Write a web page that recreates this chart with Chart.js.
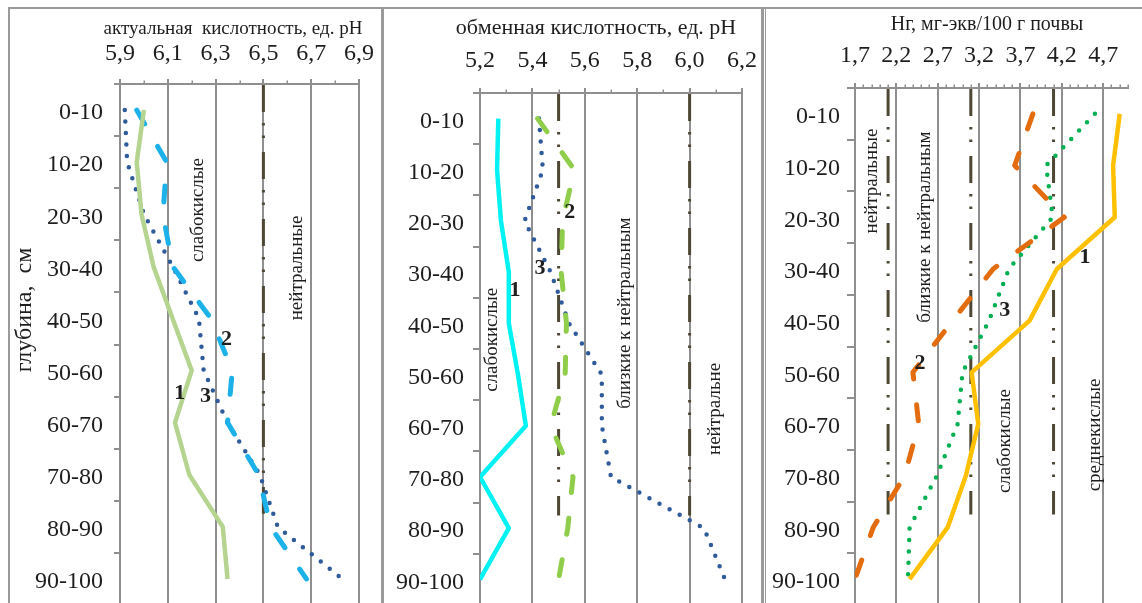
<!DOCTYPE html>
<html>
<head>
<meta charset="utf-8">
<script src="https://cdn.jsdelivr.net/npm/chart.js@4.4.1/dist/chart.umd.min.js"></script>
<style>
  html, body { margin: 0; padding: 0; background: #fff; width: 1142px; height: 603px; overflow: hidden; }
  canvas { position: absolute; left: 0; top: 0; }
  .frame { position: absolute; background: #9a9a9a; }
</style>
</head>
<body>
<div class="frame" style="left:8px;top:7px;width:1134px;height:2px"></div>
<div class="frame" style="left:8px;top:7px;width:2px;height:600px"></div>
<div class="frame" style="left:381px;top:7px;width:3px;height:600px"></div>
<div class="frame" style="left:761px;top:7px;width:3px;height:600px"></div>
<div class="frame" style="left:765px;top:7px;width:1px;height:600px"></div>
<canvas id="actual" width="1142" height="605"></canvas>
<canvas id="exchange" width="1142" height="605"></canvas>
<canvas id="hydrolytic" width="1142" height="605"></canvas>
<script>
// Depth intervals, cm
const depthLabels = ['0-10', '10-20', '20-30', '30-40', '40-50', '50-60', '60-70', '70-80', '80-90', '90-100'];

// Actual acidity, pH units
const actualTicks = [5.9, 6.1, 6.3, 6.5, 6.7, 6.9];
const actual1 = [6.00, 5.97, 5.99, 6.04, 6.12, 6.20, 6.13, 6.19, 6.33, 6.35];
const actual2 = [5.97, 6.095, 6.08, 6.12, 6.28, 6.37, 6.35, 6.48, 6.53, 6.68];
const actual3 = [5.92, 5.93, 6.00, 6.12, 6.23, 6.25, 6.35, 6.485, 6.56, 6.83];
const actualLimits = [6.5];

// Exchange acidity, pH units
const exchangeTicks = [5.2, 5.4, 5.6, 5.8, 6.0, 6.2];
const exchange1 = [5.27, 5.265, 5.28, 5.31, 5.31, 5.345, 5.375, 5.20, 5.31, 5.20];
const exchange2 = [5.42, 5.56, 5.515, 5.51, 5.53, 5.525, 5.47, 5.555, 5.535, 5.50];
const exchange3 = [5.425, 5.44, 5.37, 5.47, 5.54, 5.665, 5.665, 5.70, 6.055, 6.135];
const exchangeLimits = [5.5, 6.0];

// Hydrolytic acidity, mg-eq / 100 g soil
const hydroTicks = [1.7, 2.2, 2.7, 3.2, 3.7, 4.2, 4.7];
const hydro1 = [4.90, 4.82, 4.84, 4.14, 3.81, 3.11, 3.19, 3.04, 2.82, 2.36];
const hydro2 = [3.85, 3.63, 4.23, 3.37, 2.88, 2.40, 2.47, 2.30, 1.92, 1.70];
const hydro3 = [4.60, 4.01, 4.09, 3.56, 3.32, 3.00, 2.94, 2.69, 2.36, 2.34];
const hydroLimits = [2.1, 3.1, 4.1];

const SERIF = "'Liberation Serif', 'Times New Roman', serif";
const GRID = '#8f8f8f';
const INK = '#1e1e1e';
const LIMIT = '#4d4733';

Chart.defaults.font.family = SERIF;

const fmt = v => (Math.round(v * 10) / 10).toFixed(1).replace('.', ',');

// Minor ticks, zone boundaries and all the free text of a panel
const panelDecor = {
  id: 'panelDecor',
  beforeDatasetsDraw(chart, args, o) {
    const { ctx, chartArea: a, scales: { x, y } } = chart;
    ctx.save();
    ctx.strokeStyle = GRID;
    ctx.lineWidth = 1.5;
    const n = Math.round((x.max - x.min) / 0.1);
    for (let i = 0; i <= n; i++) {
      const v = Math.round((x.min + i * 0.1) * 10) / 10;
      if (o.majors.some(m => Math.abs(m - v) < 1e-6)) continue;
      const px = Math.round(x.getPixelForValue(v)) + 0.25;
      ctx.beginPath();
      ctx.moveTo(px, a.top);
      ctx.lineTo(px, a.top - 3.5);
      ctx.stroke();
    }
    ctx.strokeStyle = LIMIT;
    ctx.lineWidth = 3;
    ctx.setLineDash([27, 11, 2.5, 10, 2.5, 14]);
    const yEnd = y.getPixelForValue(o.limitEnd);
    for (const v of o.limits) {
      const px = x.getPixelForValue(v);
      ctx.beginPath();
      ctx.moveTo(px, a.top + 1);
      ctx.lineTo(px, yEnd);
      ctx.stroke();
    }
    ctx.restore();
  },
  afterDatasetsDraw(chart, args, o) {
    const { ctx, scales: { x, y } } = chart;
    ctx.save();
    ctx.fillStyle = INK;
    ctx.textAlign = 'center';
    ctx.textBaseline = 'alphabetic';
    ctx.font = o.title.size + 'px ' + SERIF;
    ctx.fillText(o.title.text, o.title.x, o.title.y);
    ctx.textBaseline = 'middle';
    if (o.yTitle) {
      ctx.save();
      ctx.translate(o.yTitle.x, o.yTitle.y);
      ctx.rotate(-Math.PI / 2);
      ctx.font = o.yTitle.size + 'px ' + SERIF;
      ctx.fillText(o.yTitle.text, 0, 0);
      ctx.restore();
    }
    ctx.font = '19px ' + SERIF;
    for (const z of o.zones) {
      ctx.save();
      ctx.translate(x.getPixelForValue(z.x), y.getPixelForValue(z.y));
      ctx.rotate(-Math.PI / 2);
      ctx.fillText(z.text, 0, 0);
      ctx.restore();
    }
    ctx.font = 'bold 22px ' + SERIF;
    for (const m of o.marks) {
      ctx.fillText(m.text, x.getPixelForValue(m.x), y.getPixelForValue(m.y));
    }
    ctx.restore();
  }
};

function buildPanel(id, p) {
  return new Chart(document.getElementById(id), {
    type: 'line',
    data: {
      labels: depthLabels,
      datasets: p.series.map(s => ({
        data: s.data,
        borderColor: s.color,
        borderWidth: s.width,
        borderDash: s.dash || [],
        borderCapStyle: s.dash ? 'round' : 'butt',
        borderJoinStyle: 'round',
        pointRadius: 0,
        tension: 0,
        fill: false
      }))
    },
    options: {
      indexAxis: 'y',
      responsive: false,
      animation: false,
      events: [],
      devicePixelRatio: 1,
      layout: { padding: { left: p.outerLeft, right: p.outerRight, top: 0, bottom: 0 } },
      plugins: {
        legend: { display: false },
        tooltip: { enabled: false },
        panelDecor: {
          majors: p.ticks, limits: p.limits, limitEnd: 7.75,
          title: p.title, yTitle: p.yTitle, zones: p.zones, marks: p.marks
        }
      },
      scales: {
        x: {
          type: 'linear', position: 'top', min: p.min, max: p.max,
          afterBuildTicks: sc => { sc.ticks = p.ticks.map(v => ({ value: v })); },
          afterFit: sc => { sc.height = p.top; },
          ticks: {
            callback: v => fmt(v), font: { family: SERIF, size: 24 }, color: INK,
            padding: p.tickPad, maxRotation: 0, autoSkip: false
          },
          grid: { color: GRID, lineWidth: 2, tickLength: 5, tickColor: GRID },
          border: { color: GRID, width: 2 }
        },
        y: {
          type: 'category', offset: true,
          afterFit: sc => {
            sc.width = p.left - p.outerLeft;
            // the depth axis runs to the very bottom edge of the panel
            sc.paddingTop = 0;
            sc.paddingBottom = 0;
          },
          ticks: { font: { family: SERIF, size: 24 }, color: INK, padding: p.yPad, labelOffset: 3, autoSkip: false },
          grid: { offset: true, drawOnChartArea: false, tickLength: p.yTick, color: GRID, lineWidth: 2 },
          border: { color: GRID, width: 2 }
        }
      }
    },
    plugins: [panelDecor]
  });
}

const DOTS = [0, 11.5];
const DASHES = [16, 26];

buildPanel('actual', {
  min: 5.9, max: 6.9, ticks: actualTicks, limits: actualLimits,
  outerLeft: 10, outerRight: 1142 - 359, left: 120, top: 84, tickPad: 11, yPad: 11, yTick: 6,
  series: [
    { data: actual1, color: '#b5d490', width: 4.5 },
    { data: actual2, color: '#1db1ea', width: 5, dash: DASHES },
    { data: actual3, color: '#2f5b9a', width: 4.5, dash: DOTS }
  ],
  title: { text: 'актуальная  кислотность, ед. pH', x: 233, y: 34, size: 19 },
  yTitle: { text: 'глубина,  см', x: 25, y: 310, size: 24 },
  zones: [
    { text: 'слабокислые', x: 6.225, y: 1.92 },
    { text: 'нейтральные', x: 6.64, y: 3.03 }
  ],
  marks: [
    { text: '1', x: 6.15, y: 5.43 },
    { text: '2', x: 6.346, y: 4.41 },
    { text: '3', x: 6.258, y: 5.49 }
  ]
});

buildPanel('exchange', {
  min: 5.2, max: 6.2, ticks: exchangeTicks, limits: exchangeLimits,
  outerLeft: 390, outerRight: 1142 - 742, left: 480, top: 93, tickPad: 13, yPad: 9, yTick: 7,
  series: [
    { data: exchange1, color: '#00f2f2', width: 4.5 },
    { data: exchange2, color: '#8fcd4a', width: 5, dash: DASHES },
    { data: exchange3, color: '#2f5b9a', width: 4.5, dash: DOTS }
  ],
  title: { text: 'обменная кислотность, ед. pH', x: 596, y: 34, size: 22 },
  zones: [
    { text: 'слабокислые', x: 5.246, y: 4.32 },
    { text: 'близкие к нейтральным', x: 5.753, y: 3.80 },
    { text: 'нейтральне', x: 6.097, y: 5.67 }
  ],
  marks: [
    { text: '1', x: 5.334, y: 3.35 },
    { text: '2', x: 5.543, y: 1.84 },
    { text: '3', x: 5.429, y: 2.92 }
  ]
});

buildPanel('hydrolytic', {
  min: 1.7, max: 5.0, ticks: hydroTicks, limits: hydroLimits,
  outerLeft: 770, outerRight: 1142 - 1128, left: 855, top: 88, tickPad: 13, yPad: 7, yTick: 8,
  series: [
    { data: hydro1, color: '#ffc000', width: 4.5 },
    { data: hydro2, color: '#e36c0e', width: 5, dash: DASHES },
    { data: hydro3, color: '#00b050', width: 4.5, dash: DOTS }
  ],
  title: { text: 'Нг, мг-экв/100 г почвы', x: 987, y: 30, size: 20 },
  zones: [
    { text: 'нейтральные', x: 1.905, y: 1.30 },
    { text: 'близкие к нейтральным', x: 2.545, y: 2.19 },
    { text: 'слабокислые', x: 3.51, y: 6.33 },
    { text: 'среднекислые', x: 4.60, y: 6.21 }
  ],
  marks: [
    { text: '1', x: 4.48, y: 2.77 },
    { text: '2', x: 2.485, y: 4.82 },
    { text: '3', x: 3.51, y: 3.80 }
  ]
});
</script>
</body>
</html>
